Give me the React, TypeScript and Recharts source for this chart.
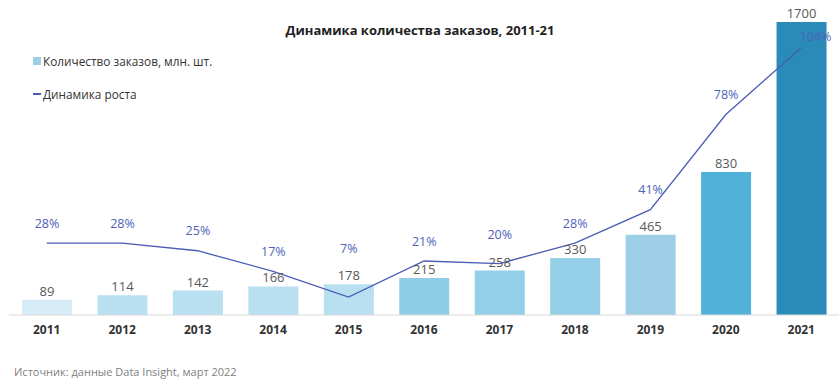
import {Bar, Cell, ComposedChart, LabelList, Line, XAxis, YAxis} from "recharts";

const years = ["2011", "2012", "2013", "2014", "2015", "2016", "2017", "2018", "2019", "2020", "2021"];
const orders = [89, 114, 142, 166, 178, 215, 258, 330, 465, 830, 1700];
const growth = [28, 28, 25, 17, 7, 21, 20, 28, 41, 78, 104];
const barColors = ["#d6ecf6", "#b9e0f1", "#b9e0f1", "#b9e0f1", "#b9e0f1", "#90cde7", "#93cfe8", "#95cfe7", "#9dd0e7", "#52b1d9", "#2a8bb8"];

const data = years.map((year, i) => ({year, orders: orders[i], growth: growth[i]}));

const FONT = "'Open Sans', sans-serif";
const ORDERS_MAX = 1700;
const GROWTH_MAX = 114;

// growth % labels: sit above the line point, pushed up if they hit the bar value label
function GrowthLabel(props: any) {
  const vb = props.viewBox ?? props;
  const {x, y, width, height} = vb;
  const i = props.index;
  const base = y + height;
  const plotH = (height * ORDERS_MAX) / orders[i];
  const lineY = base - (growth[i] / GROWTH_MAX) * plotH;
  let ty = lineY - 20;
  let tx = x + width / 2;
  if (ty > y) {
    // line runs inside the bar: keep label close, to the right of the line
    ty = lineY - 11;
    tx += 14;
  } else if (Math.abs(ty - (y - 11)) < 16) {
    ty = Math.min(ty, y - 36);
  }
  return (
    <text x={tx} y={ty} textAnchor="middle" dominantBaseline="central" fill="#4d62b8" fontSize={12.5} fontFamily={FONT}>
      {growth[i]}%
    </text>
  );
}

function LegendBox() {
  const row = {display: "flex", alignItems: "center", height: 18, fontSize: 11.8, color: "#333"};
  return (
    <div style={{position: "absolute", left: 33, top: 52}}>
      <div style={row}>
        <span style={{width: 8, height: 8, background: "#9dd0e8", marginRight: 2, display: "inline-block"}} />
        Количество заказов, млн. шт.
      </div>
      <div style={{...row, marginTop: 15}}>
        <span style={{width: 8, height: 1.5, background: "#4a5cb5", marginRight: 2, display: "inline-block"}} />
        Динамика роста
      </div>
    </div>
  );
}

export default function App() {
  return (
    <div style={{position: "absolute", left: 0, top: 0, width: 840, height: 387, background: "#fff", fontFamily: FONT}}>
      <div style={{position: "absolute", top: 21, left: 0, width: 840, textAlign: "center", fontWeight: 700, fontSize: 13, color: "#222"}}>
        Динамика количества заказов, 2011-21
      </div>
      <ComposedChart width={840} height={387} data={data} margin={{top: 22, right: 1, left: 9, bottom: 42}}>
        <XAxis dataKey="year" height={30} tickLine={false} axisLine={{stroke: "#d9d9d9"}} tickMargin={4}
          tick={{fill: "#333", fontSize: 12, fontWeight: 700, fontFamily: FONT}} />
        <YAxis yAxisId="orders" hide domain={[0, ORDERS_MAX]} />
        <YAxis yAxisId="growth" hide orientation="right" domain={[0, GROWTH_MAX]} />
        <Bar yAxisId="orders" dataKey="orders" barSize={50} isAnimationActive={false}>
          {data.map((d, i) => <Cell key={d.year} fill={barColors[i]} />)}
          <LabelList dataKey="orders" position="top" offset={4} fill="#595959" fontSize={13} fontFamily={FONT} />
          <LabelList dataKey="growth" content={GrowthLabel} />
        </Bar>
        <Line yAxisId="growth" dataKey="growth" type="linear" stroke="#4a5cb5" strokeWidth={1.3} dot={false} activeDot={false} isAnimationActive={false} />
      </ComposedChart>
      <LegendBox />
      <div style={{position: "absolute", left: 14, top: 364, fontSize: 11, color: "#808080"}}>
        Источник: данные Data Insight, март 2022
      </div>
    </div>
  );
}
